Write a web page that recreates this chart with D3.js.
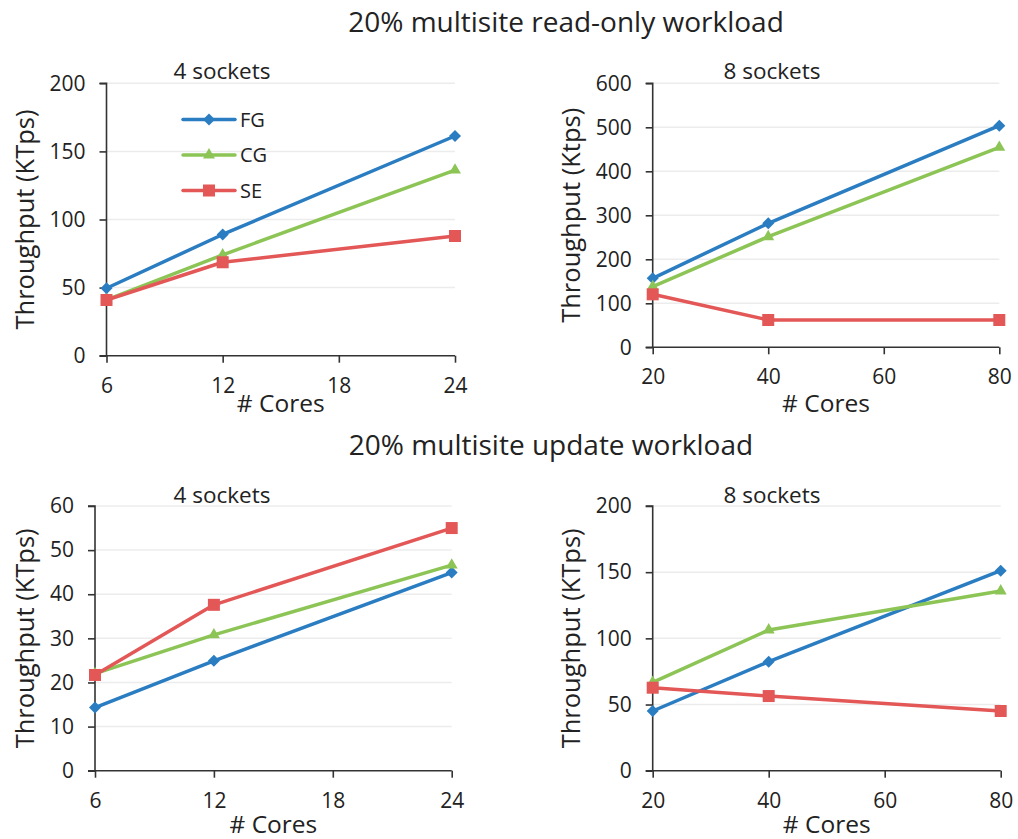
<!DOCTYPE html>
<html>
<head>
<meta charset="utf-8">
<script src="https://cdn.jsdelivr.net/npm/d3@7"></script>
<style>
  body { margin: 0; background: #fff; }
  svg { font-family: "Open Sans", sans-serif; }
</style>
</head>
<body>
<div id="chart"></div>
<script>
// x values
const coresSmall = [6, 12, 24];
const coresLarge = [20, 40, 80];
const ticksSmall = [6, 12, 18, 24];
const ticksLarge = [20, 40, 60, 80];

// read-only workload
const readFG4 = [49.5, 89, 161.3];
const readCG4 = [41, 74, 136.3];
const readSE4 = [40.9, 68.6, 87.9];
const readFG8 = [156.8, 281.8, 503.7];
const readCG8 = [137.8, 251.4, 454.5];
const readSE8 = [120.4, 62, 62];

// update workload
const updFG4 = [14.3, 24.9, 44.9];
const updCG4 = [22, 30.8, 46.6];
const updSE4 = [21.7, 37.6, 55];
const updFG8 = [45.1, 82.4, 151.1];
const updCG8 = [66.8, 106.3, 135.8];
const updSE8 = [62.7, 56.4, 45.1];

const seriesNames = ["FG", "CG", "SE"];
const colors = { FG: "#2b7dc2", CG: "#8cc556", SE: "#e35757" };

const svg = d3.select("#chart").append("svg")
    .attr("width", 1018)
    .attr("height", 839);

// main titles
svg.append("text")
    .attr("x", 566).attr("y", 32)
    .attr("text-anchor", "middle")
    .style("font-size", "28px").attr("fill", "#222")
    .text("20% multisite read-only workload");
svg.append("text")
    .attr("x", 551).attr("y", 455)
    .attr("text-anchor", "middle")
    .style("font-size", "28px").attr("fill", "#222")
    .text("20% multisite update workload");

function symbolFor(name) {
  if (name === "FG") return d3.symbol().type(d3.symbolSquare).size(72)();
  if (name === "CG") return d3.symbol().type(d3.symbolTriangle).size(62)();
  return d3.symbol().type(d3.symbolSquare).size(144)();
}

function drawPanel(p) {
  const g = svg.append("g");
  const x = d3.scaleLinear().domain(p.xDomain).range([p.x0, p.x1]);
  const y = d3.scaleLinear().domain(p.yDomain).range([p.yBot, p.yTop]);
  const yTicks = d3.range(p.yDomain[0], p.yDomain[1] + 1, p.yStep);

  // gridlines
  g.selectAll(".grid").data(yTicks.filter(v => v > 0)).enter().append("line")
    .attr("x1", p.x0).attr("x2", p.x1)
    .attr("y1", d => y(d)).attr("y2", d => y(d))
    .attr("stroke", "#ececec").attr("stroke-width", 1.5);

  // axes
  const yAxis = g.append("g")
    .attr("transform", `translate(${p.x0},0)`)
    .call(d3.axisLeft(y).tickValues(yTicks).tickSize(7).tickPadding(14));
  const xAxis = g.append("g")
    .attr("transform", `translate(0,${p.yBot})`)
    .call(d3.axisBottom(x).tickValues(p.xTicks).tickSize(7).tickPadding(14));
  [yAxis, xAxis].forEach(a => {
    a.select(".domain").attr("stroke", "#333").attr("stroke-width", 1.6);
    a.selectAll(".tick line").attr("stroke", "#333").attr("stroke-width", 1.6);
    a.selectAll(".tick text").attr("fill", "#222")
      .style("font-size", "21px").style("font-family", "Open Sans, sans-serif");
  });
  yAxis.select(".domain").attr("d", `M-7,${p.yTop}H0V${p.yBot}`);
  xAxis.select(".domain").attr("d", `M${p.x0 - 7},0H${p.x1}`);
  xAxis.selectAll(".tick text").attr("dy", 0).attr("y", 37);

  // axis titles
  g.append("text")
    .attr("x", (p.x0 + p.x1) / 2).attr("y", p.xTitleY)
    .attr("text-anchor", "middle")
    .style("font-size", "24.5px").attr("fill", "#222")
    .text("# Cores");
  g.append("text")
    .attr("transform", `translate(${p.yTitleX},${(p.yTop + p.yBot) / 2}) rotate(-90)`)
    .attr("text-anchor", "middle")
    .attr("dy", "0.35em")
    .style("font-size", "25.5px").attr("fill", "#222")
    .text(p.yLabel);
  g.append("text")
    .attr("x", p.titleX).attr("y", p.titleY)
    .attr("text-anchor", "middle")
    .style("font-size", "22.5px").attr("fill", "#222")
    .text(p.title);

  // lines and markers
  const line = d3.line().x(d => x(d[0])).y(d => y(d[1]));
  seriesNames.forEach(name => {
    const pts = p.xs.map((v, i) => [v, p.data[name][i]]);
    g.append("path").datum(pts)
      .attr("d", line)
      .attr("fill", "none")
      .attr("stroke", colors[name])
      .attr("stroke-width", 3.5)
      .attr("stroke-linejoin", "round");
    g.selectAll(".m-" + name).data(pts).enter().append("path")
      .attr("d", symbolFor(name))
      .attr("transform", d => `translate(${x(d[0])},${y(d[1])})` + (name === "FG" ? " rotate(45)" : ""))
      .attr("fill", colors[name]);
  });

  // legend
  if (p.legend) {
    seriesNames.forEach((name, i) => {
      const ly = p.legend.y + i * 35.5;
      g.append("line")
        .attr("x1", p.legend.x).attr("x2", p.legend.x + 52)
        .attr("y1", ly).attr("y2", ly)
        .attr("stroke", colors[name]).attr("stroke-width", 3.5)
        .attr("stroke-linecap", "round");
      g.append("path")
        .attr("d", symbolFor(name))
        .attr("transform", `translate(${p.legend.x + 26},${ly})` + (name === "FG" ? " rotate(45)" : ""))
        .attr("fill", colors[name]);
      g.append("text")
        .attr("x", p.legend.x + 57).attr("y", ly)
        .attr("dy", "0.35em")
        .style("font-size", "20px").attr("fill", "#222")
        .text(name);
    });
  }
}

drawPanel({
  x0: 106.5, x1: 455, yTop: 83.3, yBot: 355.7,
  xDomain: [6, 24], xTicks: ticksSmall, xs: coresSmall,
  yDomain: [0, 200], yStep: 50,
  data: { FG: readFG4, CG: readCG4, SE: readSE4 },
  yLabel: "Throughput (KTps)", yTitleX: 25, xTitleY: 412,
  title: "4 sockets", titleX: 222, titleY: 79,
  legend: { x: 183, y: 119.5 }
});
drawPanel({
  x0: 652.7, x1: 999.3, yTop: 83.3, yBot: 347.3,
  xDomain: [20, 80], xTicks: ticksLarge, xs: coresLarge,
  yDomain: [0, 600], yStep: 100,
  data: { FG: readFG8, CG: readCG8, SE: readSE8 },
  yLabel: "Throughput (Ktps)", yTitleX: 571, xTitleY: 412,
  title: "8 sockets", titleX: 772, titleY: 79
});
drawPanel({
  x0: 95, x1: 451.7, yTop: 506, yBot: 770.7,
  xDomain: [6, 24], xTicks: ticksSmall, xs: coresSmall,
  yDomain: [0, 60], yStep: 10,
  data: { FG: updFG4, CG: updCG4, SE: updSE4 },
  yLabel: "Throughput (KTps)", yTitleX: 25, xTitleY: 833,
  title: "4 sockets", titleX: 222, titleY: 503
});
drawPanel({
  x0: 652.7, x1: 1000.7, yTop: 506, yBot: 770.7,
  xDomain: [20, 80], xTicks: ticksLarge, xs: coresLarge,
  yDomain: [0, 200], yStep: 50,
  data: { FG: updFG8, CG: updCG8, SE: updSE8 },
  yLabel: "Throughput (KTps)", yTitleX: 571, xTitleY: 833,
  title: "8 sockets", titleX: 772, titleY: 503
});
</script>
</body>
</html>
